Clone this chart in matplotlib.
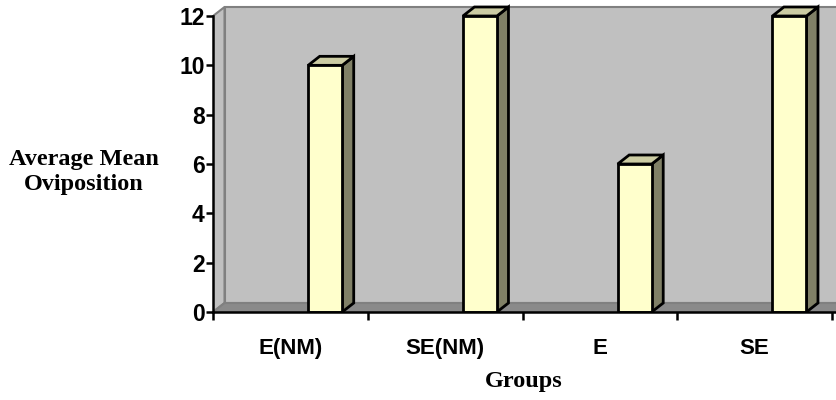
import matplotlib
matplotlib.use('Agg')
import matplotlib.pyplot as plt
from matplotlib.patches import Polygon, Rectangle

groups = ['E(NM)', 'SE(NM)', 'E', 'SE']
values = [10, 12, 6, 12]
yticks = [0, 2, 4, 6, 8, 10, 12]

W, H = 836, 400
fig = plt.figure(figsize=(W / 100, H / 100), dpi=100)

# axes placed in pixel terms: y axis at x=213, x axis at y=312 (from top)
left, bottom_px = 213, 312
ax = fig.add_axes([left / W, (H - bottom_px) / H, (W - left) / W, bottom_px / H])

px_x = (832 - 213) / 4.0      # pixels per category
px_y = (312 - 16) / 12.0      # pixels per unit
xmax = (W - left) / px_x
ymax = bottom_px / px_y
ax.set_xlim(0, xmax)
ax.set_ylim(0, ymax)

dx = 11.5 / px_x
dy = 9.0 / px_y
top = 12

# walls
ax.add_patch(Polygon([(dx, dy), (xmax + 1, dy), (xmax + 1, top + dy), (dx, top + dy)],
                     closed=True, facecolor='#C0C0C0', edgecolor='#808080', lw=1.5, zorder=1))
ax.add_patch(Polygon([(0, 0), (dx, dy), (dx, top + dy), (0, top)],
                     closed=True, facecolor='#C0C0C0', edgecolor='#808080', lw=1.5, zorder=1))
ax.add_patch(Polygon([(0, 0), (xmax + 1, 0), (xmax + 1 + dx, dy), (dx, dy)],
                     closed=True, facecolor='#8A8A8A', edgecolor='#808080', lw=1.5, zorder=2))

# 3D-looking bars
bw = 0.22
for i, v in enumerate(values):
    x0 = i + 0.615
    x1 = x0 + bw
    ax.add_patch(Polygon([(x1, 0), (x1 + dx, dy), (x1 + dx, v + dy), (x1, v)],
                         closed=True, facecolor='#808066', edgecolor='black', lw=2, zorder=3))
    ax.add_patch(Polygon([(x0, v), (x1, v), (x1 + dx, v + dy), (x0 + dx, v + dy)],
                         closed=True, facecolor='#CCCCA3', edgecolor='black', lw=2, zorder=3))
    ax.add_patch(Rectangle((x0, 0), bw, v, facecolor='#FFFFCC', edgecolor='black', lw=2, zorder=4))

for s in ['top', 'right']:
    ax.spines[s].set_visible(False)
for s in ['left', 'bottom']:
    ax.spines[s].set_linewidth(1.8)
    ax.spines[s].set_zorder(5)
ax.spines['left'].set_bounds(0, 12)

ax.set_yticks(yticks)
ax.set_yticklabels([str(t) for t in yticks], fontsize=16.5, fontweight='bold',
                   family='Liberation Sans')
ax.tick_params(axis='y', length=5, width=1.8, pad=1)

ax.set_xticks(range(len(groups) + 1))
ax.set_xticklabels([])
ax.set_xticks([i + 0.5 for i in range(len(groups))], minor=True)
ax.set_xticklabels(groups, minor=True, fontsize=16, fontweight='bold',
                   family='Liberation Sans')
ax.tick_params(axis='x', which='major', length=6, width=1.8)
ax.tick_params(axis='x', which='minor', length=0, pad=19)
ax.set_facecolor('white')

fig.text(84 / W, 1 - 172 / H, 'Average Mean\nOviposition', ha='center', va='center',
         fontsize=17.5, fontweight='bold', family='Liberation Serif', linespacing=1.3)
fig.text(524 / W, 1 - 381 / H, 'Groups', ha='center', va='center',
         fontsize=17.5, fontweight='bold', family='Liberation Serif')

fig.savefig('out.png', dpi=100)
